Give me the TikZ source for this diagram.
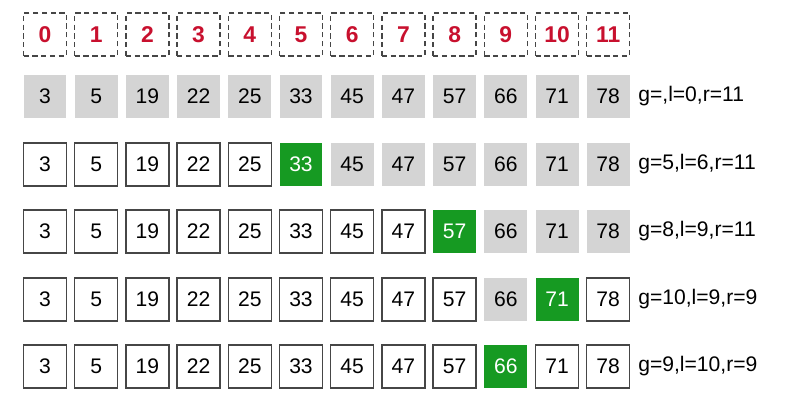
\documentclass[tikz,border=0pt]{standalone}
\usepackage{fontspec}
\setmainfont{Liberation Sans}
\definecolor{idxred}{RGB}{200,16,46}
\definecolor{cellgray}{RGB}{212,212,212}
\definecolor{cellgreen}{RGB}{22,154,34}
\definecolor{edgegray}{RGB}{70,70,70}

\begin{document}
\begin{tikzpicture}[x=0.02cm,y=-0.02cm,
    cell/.style={rectangle,minimum size=0.86cm,inner sep=0pt,font=\fontsize{12}{14}\selectfont},
    idxcell/.style={cell,draw=edgegray,line width=0.7pt,dash pattern=on 3pt off 2pt,text=idxred,font=\fontsize{13}{15}\selectfont\bfseries},
    whitecell/.style={cell,draw=edgegray,line width=0.7pt,fill=white},
    graycell/.style={cell,fill=cellgray},
    greencell/.style={cell,fill=cellgreen,text=white},
    status/.style={anchor=west,inner sep=0pt,font=\fontsize{12}{14}\selectfont}]
    \useasboundingbox (0,0) rectangle (785,403);

    % index row
    \foreach \c in {0,...,11}
        \node[idxcell] (i\c) at (45+51.2*\c, 34.5) {\c};

    % one row per step: green cell g, gray cells l..r
    \foreach \row/\y/\g/\l/\r/\txt in {1/96/-1/0/11/{g=,l=0,r=11},
                                       2/164.5/5/6/11/{g=5,l=6,r=11},
                                       3/231.5/8/9/11/{g=8,l=9,r=11},
                                       4/299.5/10/9/9/{g=10,l=9,r=9},
                                       5/366.5/9/10/9/{g=9,l=10,r=9}} {
        \foreach \v [count=\c from 0] in {3,5,19,22,25,33,45,47,57,66,71,78} {
            \ifnum\c=\g \def\kind{greencell}%
            \else\ifnum\c<\l \def\kind{whitecell}%
            \else\ifnum\c>\r \def\kind{whitecell}%
            \else \def\kind{graycell}\fi\fi\fi
            \node[\kind] (r\row c\c) at (45+51.2*\c, \y) {\v};
        }
        \node[status] (s\row) at (638, \y) {\txt};
    }
\end{tikzpicture}
\end{document}
